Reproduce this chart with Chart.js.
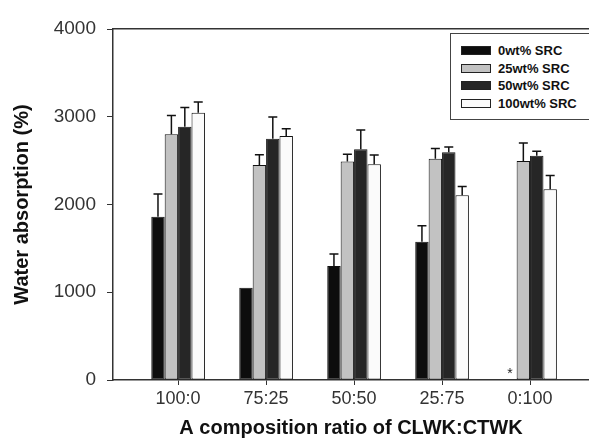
<!DOCTYPE html>
<html>
<head>
<meta charset="utf-8">
<script src="https://cdn.jsdelivr.net/npm/chart.js@4"></script>
<style>
  html, body { margin: 0; padding: 0; background: #fff; overflow: hidden; }
  #wrap { position: relative; width: 589px; height: 440px; }
  #legend {
    position: absolute; left: 450px; top: 33px; width: 150px; height: 87px;
    border: 1.5px solid #444; box-sizing: border-box; background: #fff;
    font: bold 13px "Liberation Sans", Arial, sans-serif; color: #111;
    padding-top: 8px;
  }
  .item { display: flex; align-items: center; height: 17.5px; padding-left: 10px; }
  .sw { width: 30px; height: 9px; border: 1px solid #222; box-sizing: border-box; margin-right: 7px; }
</style>
</head>
<body>
<div id="wrap">
  <canvas id="chart" width="589" height="440"></canvas>
  <div id="legend"></div>
</div>
<script>
const categories = ['100:0', '75:25', '50:50', '25:75', '0:100'];
const seriesLabels = ['0wt% SRC', '25wt% SRC', '50wt% SRC', '100wt% SRC'];
const src0 = [1860, 1050, 1300, 1575, 0];
const src0Err = [260, 0, 137, 182, 0];
const src25 = [2800, 2450, 2490, 2520, 2495];
const src25Err = [215, 118, 84, 118, 205];
const src50 = [2885, 2750, 2630, 2595, 2555];
const src50Err = [220, 247, 220, 61, 53];
const src100 = [3045, 2780, 2460, 2105, 2175];
const src100Err = [122, 84, 103, 99, 155];
const yTicks = [0, 1000, 2000, 3000, 4000];

const values = [src0, src25, src50, src100];
const errors = [src0Err, src25Err, src50Err, src100Err];
const fills = ['#0d0d0d', '#c2c2c2', '#262626', '#fbfbfb'];
const FONT = '"Liberation Sans", Arial, sans-serif';

// html legend inside the plot
const legendEl = document.getElementById('legend');
seriesLabels.forEach((label, i) => {
    const row = document.createElement('div');
    row.className = 'item';
    row.innerHTML = `<span class="sw" style="background:${fills[i]}"></span><span>${label}</span>`;
    legendEl.appendChild(row);
});

// error bars (upper only) + asterisk for empty value
const errorBars = {
    id: 'errorBars',
    afterDatasetsDraw(chart) {
        const ctx = chart.ctx;
        const y = chart.scales.y;
        ctx.save();
        ctx.strokeStyle = '#111';
        ctx.lineWidth = 1.5;
        chart.data.datasets.forEach((ds, di) => {
            const meta = chart.getDatasetMeta(di);
            meta.data.forEach((bar, i) => {
                const v = values[di][i];
                const e = errors[di][i];
                if (v === 0) {
                    ctx.fillStyle = '#222';
                    ctx.font = '14px ' + FONT;
                    ctx.textAlign = 'center';
                    ctx.fillText('*', bar.x, y.getPixelForValue(0) - 2);
                    return;
                }
                if (!e) return;
                const top = y.getPixelForValue(v + e);
                ctx.beginPath();
                ctx.moveTo(bar.x, bar.y);
                ctx.lineTo(bar.x, top);
                ctx.moveTo(bar.x - 4.5, top);
                ctx.lineTo(bar.x + 4.5, top);
                ctx.stroke();
            });
        });
        ctx.restore();
    }
};

new Chart(document.getElementById('chart'), {
    type: 'bar',
    data: {
        datasets: seriesLabels.map((label, di) => ({
            label: label,
            data: categories.map((c, i) => ({ x: i + 1, y: values[di][i] })),
            backgroundColor: fills[di],
            borderColor: '#111',
            borderWidth: 1,
            borderSkipped: false,
            categoryPercentage: 0.61,
            barPercentage: 1
        }))
    },
    options: {
        responsive: false,
        animation: false,
        layout: { padding: 0 },
        plugins: { legend: { display: false }, tooltip: { enabled: false } },
        scales: {
            x: {
                type: 'linear',
                min: 0.26,
                max: 5.67,
                offset: false,
                afterBuildTicks: (s) => { s.ticks = categories.map((c, i) => ({ value: i + 1 })); },
                afterFit: (s) => { s.height = 60; },
                ticks: {
                    callback: (v) => categories[v - 1] ?? '',
                    font: { family: FONT, size: 18 },
                    color: '#333',
                    padding: 3,
                    maxRotation: 0
                },
                grid: { offset: false, drawOnChartArea: false, tickLength: 5, color: '#333' },
                border: { color: '#333', width: 1.5 },
                title: {
                    display: true,
                    text: 'A composition ratio of CLWK:CTWK',
                    font: { family: FONT, size: 20, weight: 'bold' },
                    color: '#111',
                    padding: { top: 0, bottom: 0 }
                }
            },
            x2: {
                type: 'linear',
                position: 'top',
                min: 0,
                max: 1,
                afterFit: (s) => { s.height = 29; },
                ticks: { display: false },
                grid: { display: false, drawTicks: false },
                border: { display: true, color: '#333', width: 1.5 }
            },
            y: {
                min: 0,
                max: 4000,
                afterBuildTicks: (s) => { s.ticks = yTicks.map(v => ({ value: v })); },
                afterFit: (s) => { s.width = 113; },
                ticks: {
                    callback: (v) => String(v),
                    font: { family: FONT, size: 19 },
                    color: '#333',
                    padding: 11
                },
                grid: { drawOnChartArea: false, tickLength: 6, color: '#333' },
                border: { color: '#333', width: 1.5 },
                title: {
                    display: true,
                    text: 'Water absorption (%)',
                    font: { family: FONT, size: 20, weight: 'bold' },
                    color: '#111',
                    padding: { top: 10, bottom: 0 }
                }
            }
        }
    },
    plugins: [errorBars]
});
</script>
</body>
</html>
